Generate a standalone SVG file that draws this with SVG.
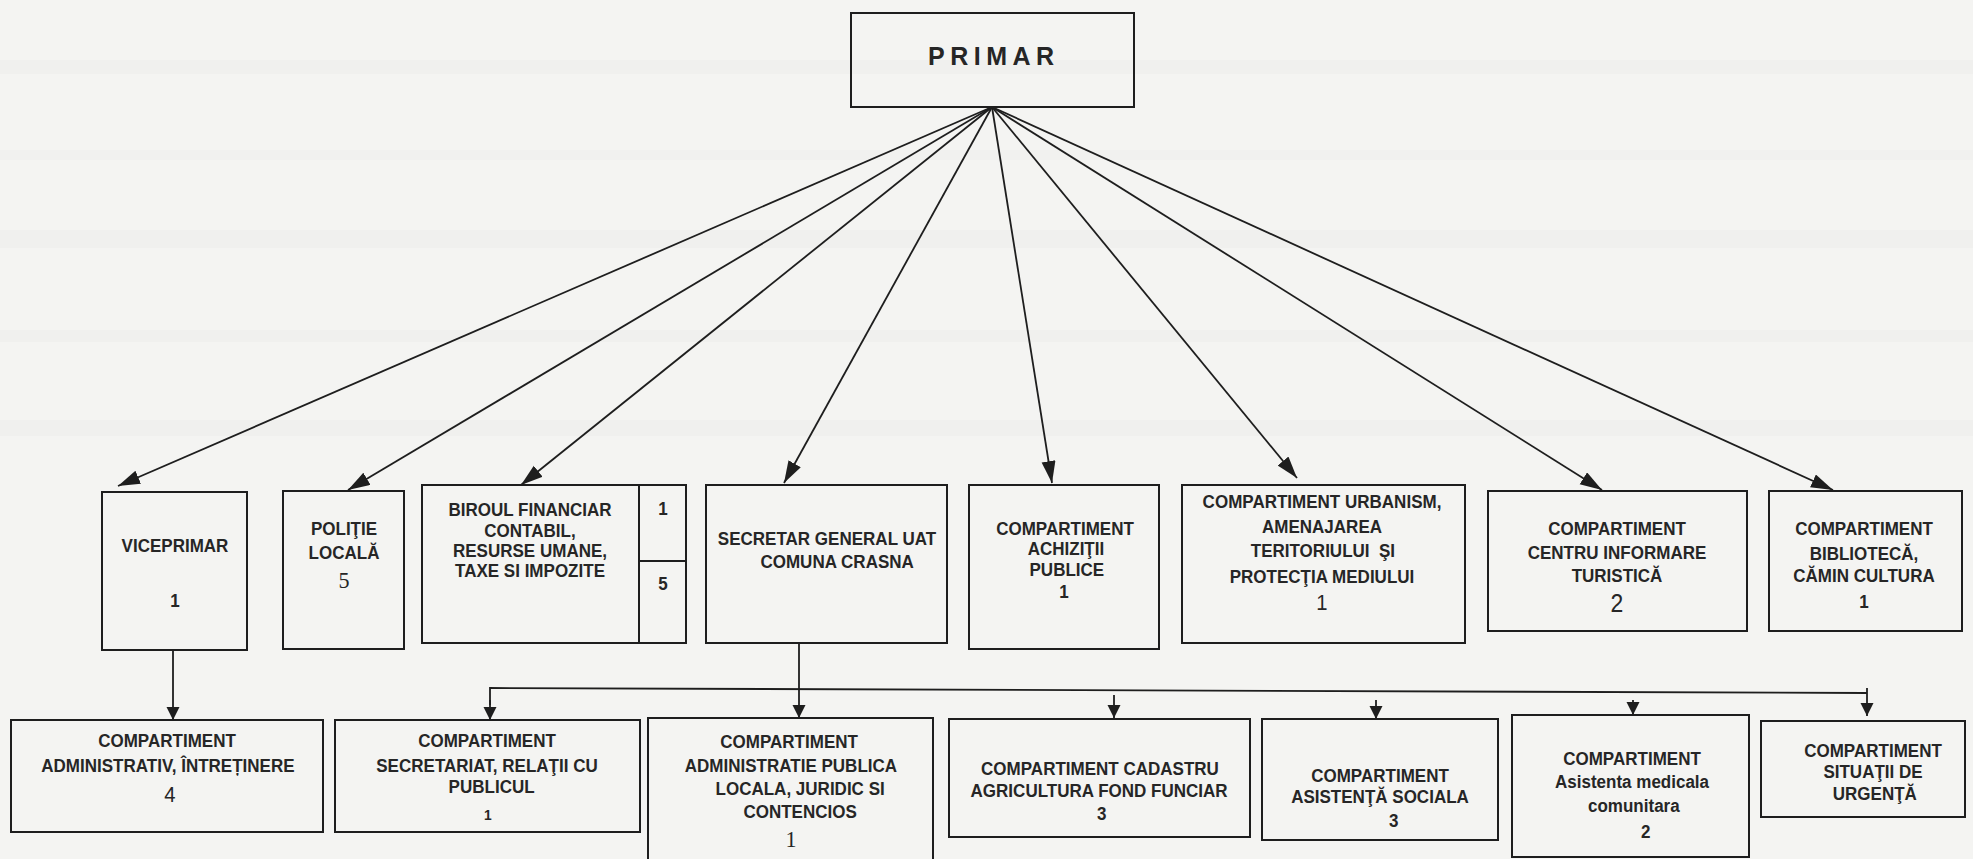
<svg xmlns="http://www.w3.org/2000/svg" width="1973" height="859" viewBox="0 0 1973 859">
<style>
.bx{fill:none;stroke:#1e1e1e;stroke-width:2}
.ln{fill:none;stroke:#1e1e1e;stroke-width:1.8}
.t{font-family:"Liberation Sans",Arial,sans-serif;font-weight:bold;font-size:18.5px;fill:#262626;text-anchor:middle}
.n{font-family:"Liberation Sans",Arial,sans-serif;font-weight:normal;font-size:22px;fill:#262626;text-anchor:middle}
.s{font-family:"Liberation Serif","Times New Roman",serif;font-weight:normal;font-size:24px;fill:#262626;text-anchor:middle}
</style>
<defs>
<marker id="a" markerUnits="userSpaceOnUse" markerWidth="24" markerHeight="16" refX="22" refY="7" orient="auto"><path d="M0,0 L22,7 L0,14 z" fill="#1e1e1e"/></marker>
<marker id="b" markerUnits="userSpaceOnUse" markerWidth="15" markerHeight="15" refX="13" refY="6.5" orient="auto"><path d="M0,0 L13,6.5 L0,13 z" fill="#1e1e1e"/></marker>
</defs>
<rect x="0" y="0" width="1973" height="859" fill="#f4f4f2"/>
<g opacity="0.3">
<rect x="0" y="60" width="1973" height="14" fill="#e9e9e7"/>
<rect x="0" y="150" width="1973" height="10" fill="#ebebe9"/>
<rect x="0" y="230" width="1973" height="18" fill="#e8e8e6"/>
<rect x="0" y="330" width="1973" height="12" fill="#eaeae8"/>
<rect x="0" y="420" width="1973" height="16" fill="#e9e9e7"/>
</g>

<g id="connectors">
<line class="ln" x1="992" y1="107" x2="118" y2="486" marker-end="url(#a)"/>
<line class="ln" x1="992" y1="107" x2="348" y2="490" marker-end="url(#a)"/>
<line class="ln" x1="992" y1="107" x2="521" y2="485" marker-end="url(#a)"/>
<line class="ln" x1="992" y1="107" x2="784" y2="483" marker-end="url(#a)"/>
<line class="ln" x1="992" y1="107" x2="1052" y2="483" marker-end="url(#a)"/>
<line class="ln" x1="992" y1="107" x2="1297" y2="478" marker-end="url(#a)"/>
<line class="ln" x1="992" y1="107" x2="1602" y2="490" marker-end="url(#a)"/>
<line class="ln" x1="992" y1="107" x2="1833" y2="490" marker-end="url(#a)"/>
<line class="ln" x1="173" y1="650" x2="173" y2="720" marker-end="url(#b)"/>
<line class="ln" x1="799" y1="643" x2="799" y2="718" marker-end="url(#b)"/>
<polyline class="ln" points="490,705 490,688 1867,693"/>
<line class="ln" x1="490" y1="700" x2="490" y2="720" marker-end="url(#b)"/>
<line class="ln" x1="1867" y1="688" x2="1867" y2="716" marker-end="url(#b)"/>
<line class="ln" x1="1114" y1="695" x2="1114" y2="718" marker-end="url(#b)"/>
<line class="ln" x1="1376" y1="700" x2="1376" y2="719" marker-end="url(#b)"/>
<line class="ln" x1="1633" y1="700" x2="1633" y2="715" marker-end="url(#b)"/>
</g>

<g id="primar">
<rect class="bx" x="851" y="13" width="283" height="94"/>
<text x="928" y="65" style="font-family:'Liberation Sans',Arial,sans-serif;font-weight:bold;font-size:25px;fill:#262626;letter-spacing:5.5px">PRIMAR</text>
</g>

<g id="viceprimar">
<rect class="bx" x="102" y="492" width="145" height="158"/>
<g transform="translate(175 0) scale(0.92 1)">
<text class="t" x="0" y="552">VICEPRIMAR</text>
<text class="t" x="0" y="607">1</text>
</g>
</g>

<g id="politie">
<rect class="bx" x="283" y="491" width="121" height="158"/>
<g transform="translate(344 0) scale(0.92 1)">
<text class="t" x="0" y="535">POLIŢIE</text>
<text class="t" x="0" y="559">LOCALĂ</text>
<text class="s" x="0" y="588">5</text>
</g>
</g>

<g id="biroul">
<rect class="bx" x="422" y="485" width="264" height="158"/>
<line class="bx" x1="639" y1="485" x2="639" y2="643"/>
<line class="bx" x1="639" y1="561" x2="686" y2="561"/>
<g transform="translate(530 0) scale(0.92 1)">
<text class="t" x="0" y="516">BIROUL FINANCIAR</text>
<text class="t" x="0" y="537">CONTABIL,</text>
<text class="t" x="0" y="557">RESURSE UMANE,</text>
<text class="t" x="0" y="577">TAXE SI IMPOZITE</text>
</g>
<g transform="translate(663 0) scale(0.92 1)">
<text class="t" x="0" y="515">1</text>
<text class="t" x="0" y="590">5</text>
</g>
</g>

<g id="secretar">
<rect class="bx" x="706" y="485" width="241" height="158"/>
<g transform="translate(827 0) scale(0.92 1)">
<text class="t" x="0" y="545">SECRETAR GENERAL UAT</text>
<text class="t" x="11" y="568">COMUNA CRASNA</text>
</g>
</g>

<g id="achizitii">
<rect class="bx" x="969" y="485" width="190" height="164"/>
<g transform="translate(1065 0) scale(0.92 1)">
<text class="t" x="0" y="535">COMPARTIMENT</text>
<text class="t" x="1" y="555">ACHIZIŢII</text>
<text class="t" x="2" y="576">PUBLICE</text>
<text class="t" x="-1" y="598">1</text>
</g>
</g>

<g id="urbanism">
<rect class="bx" x="1182" y="485" width="283" height="158"/>
<g transform="translate(1322 0) scale(0.92 1)">
<text class="t" x="0" y="508">COMPARTIMENT URBANISM,</text>
<text class="t" x="0" y="533">AMENAJAREA</text>
<text class="t" x="1" y="557" xml:space="preserve">TERITORIULUI  ŞI</text>
<text class="t" x="0" y="583">PROTECŢIA MEDIULUI</text>
<text class="n" x="0" y="610">1</text>
</g>
</g>

<g id="centru">
<rect class="bx" x="1488" y="491" width="259" height="140"/>
<g transform="translate(1617 0) scale(0.92 1)">
<text class="t" x="0" y="535">COMPARTIMENT</text>
<text class="t" x="0" y="559">CENTRU INFORMARE</text>
<text class="t" x="0" y="582">TURISTICĂ</text>
<text class="n" x="0" y="612" style="font-size:25px">2</text>
</g>
</g>

<g id="biblioteca">
<rect class="bx" x="1769" y="491" width="193" height="140"/>
<g transform="translate(1864 0) scale(0.92 1)">
<text class="t" x="0" y="535">COMPARTIMENT</text>
<text class="t" x="0" y="560">BIBLIOTECĂ,</text>
<text class="t" x="0" y="582">CĂMIN CULTURA</text>
<text class="t" x="0" y="608">1</text>
</g>
</g>

<g id="administrativ">
<rect class="bx" x="11" y="720" width="312" height="112"/>
<g transform="translate(167 0) scale(0.92 1)">
<text class="t" x="0" y="747">COMPARTIMENT</text>
<text class="t" x="1" y="772">ADMINISTRATIV, ÎNTREȚINERE</text>
<text class="n" x="3" y="802">4</text>
</g>
</g>

<g id="secretariat">
<rect class="bx" x="335" y="720" width="305" height="112"/>
<g transform="translate(487 0) scale(0.92 1)">
<text class="t" x="0" y="747">COMPARTIMENT</text>
<text class="t" x="0" y="772">SECRETARIAT, RELAŢII CU</text>
<text class="t" x="5" y="793">PUBLICUL</text>
<text class="t" x="1" y="820" style="font-size:15px">1</text>
</g>
</g>

<g id="administratie">
<path class="bx" d="M648,870 V718 H933 V870"/>
<g transform="translate(790 0) scale(0.92 1)">
<text class="t" x="-1" y="748">COMPARTIMENT</text>
<text class="t" x="1" y="772">ADMINISTRATIE PUBLICA</text>
<text class="t" x="11" y="795">LOCALA, JURIDIC SI</text>
<text class="t" x="11" y="818">CONTENCIOS</text>
<text class="s" x="1" y="847">1</text>
</g>
</g>

<g id="cadastru">
<rect class="bx" x="949" y="719" width="301" height="118"/>
<g transform="translate(1100 0) scale(0.92 1)">
<text class="t" x="0" y="775">COMPARTIMENT CADASTRU</text>
<text class="t" x="-1" y="797">AGRICULTURA FOND FUNCIAR</text>
<text class="t" x="2" y="820">3</text>
</g>
</g>

<g id="asistenta-sociala">
<rect class="bx" x="1262" y="719" width="236" height="121"/>
<g transform="translate(1380 0) scale(0.92 1)">
<text class="t" x="0" y="782">COMPARTIMENT</text>
<text class="t" x="0" y="803">ASISTENŢĂ SOCIALA</text>
<text class="t" x="15" y="827">3</text>
</g>
</g>

<g id="asistenta-medicala">
<rect class="bx" x="1512" y="715" width="237" height="142"/>
<g transform="translate(1632 0) scale(0.92 1)">
<text class="t" x="0" y="765">COMPARTIMENT</text>
<text class="t" x="0" y="788">Asistenta medicala</text>
<text class="t" x="2" y="812">comunitara</text>
<text class="t" x="15" y="838">2</text>
</g>
</g>

<g id="situatii">
<rect class="bx" x="1761" y="721" width="204" height="96"/>
<g transform="translate(1873 0) scale(0.92 1)">
<text class="t" x="0" y="757">COMPARTIMENT</text>
<text class="t" x="0" y="778">SITUAŢII DE</text>
<text class="t" x="2" y="800">URGENŢĂ</text>
</g>
</g>
</svg>
